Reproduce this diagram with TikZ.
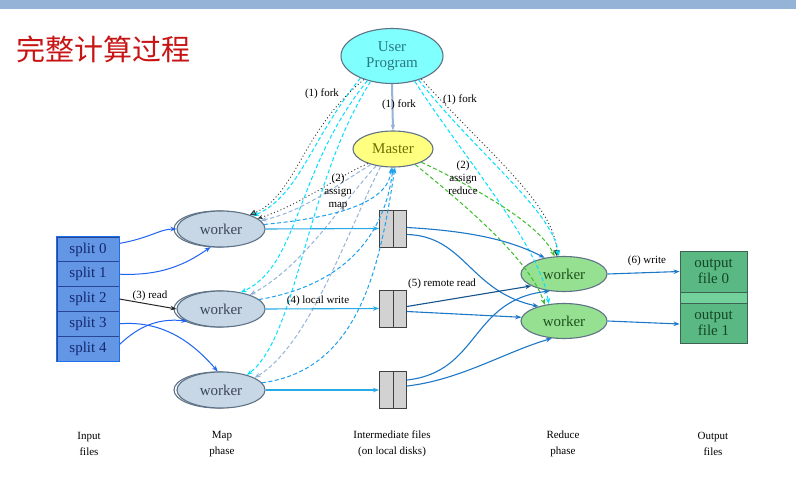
\documentclass[tikz,border=0pt]{standalone}
\usepackage{fontspec}
\setmainfont{Liberation Serif}
\newfontfamily\cjk{Noto Sans CJK SC}
\usetikzlibrary{shapes.geometric,arrows.meta}
\definecolor{barblue}{RGB}{149,179,215}
\definecolor{titlered}{RGB}{200,20,20}
\definecolor{edgegray}{RGB}{95,115,135}
\definecolor{mapfill}{RGB}{200,215,230}
\definecolor{maptext}{RGB}{60,70,90}
\definecolor{redfill}{RGB}{150,225,145}
\definecolor{redtext}{RGB}{30,80,30}
\definecolor{upfill}{RGB}{128,255,255}
\definecolor{uptext}{RGB}{40,120,130}
\definecolor{mfill}{RGB}{255,255,128}
\definecolor{mtext}{RGB}{110,110,0}
\definecolor{splitfill}{RGB}{100,150,230}
\definecolor{splitedge}{RGB}{40,70,150}
\definecolor{splitouter}{RGB}{30,110,235}
\definecolor{splittext}{RGB}{20,40,110}
\definecolor{boxgray}{RGB}{210,210,210}
\definecolor{outfill}{RGB}{90,185,130}
\definecolor{outstrip}{RGB}{115,210,155}
\definecolor{outedge}{RGB}{60,100,80}
\definecolor{outtext}{RGB}{20,70,40}
\definecolor{readblue}{RGB}{30,100,240}
\definecolor{writeblue}{RGB}{40,170,230}
\definecolor{remoteblue}{RGB}{30,120,200}
\definecolor{cyandash}{RGB}{0,225,255}
\definecolor{steeldash}{RGB}{150,180,215}
\definecolor{brightdash}{RGB}{30,160,240}
\definecolor{greendash}{RGB}{60,190,40}
\definecolor{tealtri}{RGB}{30,200,200}
\begin{document}
\begin{tikzpicture}[x=1pt,y=-1pt,
  ell/.style={ellipse, draw=edgegray, line width=1.1pt, inner sep=0pt, font=\fontsize{15}{16}\selectfont, align=center},
  mapw/.style={ell, fill=mapfill, minimum width=88pt, minimum height=36pt, text=maptext},
  mapback/.style={ell, minimum width=88pt, minimum height=36pt},
  redw/.style={ell, fill=redfill, minimum width=86pt, minimum height=35pt, text=redtext},
  splitbox/.style={rectangle, draw=splitedge, line width=0.8pt, fill=splitfill, minimum width=62pt, minimum height=24.8pt, inner sep=0pt, font=\fontsize{15}{16}\selectfont, text=splittext},
  ibox/.style={rectangle, draw=black!75, fill=boxgray, minimum width=27pt, minimum height=37pt, line width=0.9pt, inner sep=0pt},
  outbox/.style={rectangle, draw=outedge, fill=outfill, line width=0.9pt, minimum width=67pt, inner sep=0pt, font=\fontsize{15}{16}\selectfont, text=outtext, align=center},
  lbl/.style={font=\fontsize{11}{13}\selectfont, align=center, inner sep=1pt},
  bot/.style={font=\fontsize{11}{16}\selectfont, align=center, inner sep=0pt},
  tip/.style={-{Stealth[length=6pt,width=4.5pt]}},
  readarr/.style={tip, readblue, line width=1pt},
  writearr/.style={tip, writeblue, line width=1.1pt},
  remarr/.style={tip, remoteblue, line width=1.1pt},
  cyd/.style={tip, cyandash, line width=1pt, dash pattern=on 4pt off 2.5pt},
  std/.style={tip, steeldash, line width=1pt, dash pattern=on 4pt off 2.5pt},
  brd/.style={tip, brightdash, line width=1pt, dash pattern=on 4pt off 2.5pt},
  grd/.style={tip, greendash, line width=1pt, dash pattern=on 4pt off 2.5pt},
  dotk/.style={-{Triangle[length=6pt,width=6pt,fill=tealtri]}, black!80, line width=0.9pt, dash pattern=on 1pt off 2.5pt}
]
\useasboundingbox (0,0) rectangle (796,479);
\fill[white] (0,0) rectangle (796,479);
\fill[barblue] (0,0) rectangle (796,8.5);
\node[text=titlered, font=\cjk\fontsize{29}{29}\selectfont, anchor=west, inner sep=0pt] (title) at (16,49) {完整计算过程};

% main nodes
\node[ell, fill=upfill, text=uptext, minimum width=102pt, minimum height=55pt] (up) at (392,56) {User\\Program};
\node[ell, fill=mfill, text=mtext, minimum width=80pt, minimum height=36pt] (master) at (393,149) {Master};

\node[mapback] (m1b) at (218,229) {};
\node[mapback] (m2b) at (218,309) {};
\node[mapback] (m3b) at (218,390) {};
\node[mapw] (m1) at (221,229) {worker};
\node[mapw] (m2) at (221,309) {worker};
\node[mapw] (m3) at (221,390) {worker};

\node[redw] (r1) at (564,274) {worker};
\node[redw] (r2) at (564,321) {worker};

\node[splitbox] (s0) at (88,249.4) {split 0};
\node[splitbox] (s1) at (88,274.2) {split 1};
\node[splitbox] (s2) at (88,299.0) {split 2};
\node[splitbox] (s3) at (88,323.8) {split 3};
\node[splitbox] (s4) at (88,348.6) {split 4};
\draw[splitouter, line width=1.6pt] (s0.north west) rectangle (s4.south east);

\node[ibox] (i1) at (393,228.5) {};
\node[ibox] (i2) at (393,308.5) {};
\node[ibox] (i3) at (393,390) {};
\draw[black!75, line width=0.9pt] (i1.north) -- (i1.south);
\draw[black!75, line width=0.9pt] (i2.north) -- (i2.south);
\draw[black!75, line width=0.9pt] (i3.north) -- (i3.south);

\node[outbox, minimum height=41pt] (o0) at (713.5,271.5) {output\\file 0};
\node[outbox, fill=outstrip, minimum height=11pt] (os) at (713.5,297.5) {};
\node[outbox, minimum height=40pt] (o1) at (713.5,323) {output\\file 1};

% fork
\draw[-{Stealth[length=6pt,width=4.5pt,fill=black!80]}, steeldash, line width=2pt] (up.south) -- (master.north);
\node[lbl] (lf1) at (399,105) {(1) fork};
\node[lbl] (lf0) at (322,94) {(1) fork};
\node[lbl] (lf2) at (460,100) {(1) fork};

\draw[cyd] (up.215) .. controls (310,140) and (300,195) .. (m1.22);
\draw[dotk] (up.220) .. controls (302,130) and (296,195) .. (m1.26);
\draw[cyd] (up.225) .. controls (295,170) and (300,265) .. (m2.40);
\draw[cyd] (up.230) .. controls (305,185) and (298,335) .. (m3.30);

\draw[dotk] (up.-38) .. controls (485,150) and (555,205) .. (r1.112);
\draw[cyd] (up.-42) .. controls (478,155) and (552,210) .. (r1.106);
\draw[cyd] (up.-48) .. controls (462,155) and (540,245) .. (r2.132);

% assign map
\draw[dotk, -{Stealth[length=5pt,width=4pt]}] (master.210) .. controls (335,178) and (300,205) .. (m1.16);
\draw[std] (master.215) .. controls (330,190) and (300,212) .. (m1.12);
\draw[std] (master.225) .. controls (340,205) and (305,265) .. (m2.26);
\draw[std] (master.235) .. controls (350,225) and (310,345) .. (m3.20);
\node[lbl] (lam) at (338,192) {(2)\\assign\\map};

% workers report to master
\draw[brd] (m1.6) .. controls (330,218) and (388,205) .. (master.265);
\draw[brd] (m2.14) .. controls (345,285) and (385,235) .. (master.270);
\draw[brd] (m3.10) .. controls (360,370) and (380,265) .. (master.276);

% assign reduce
\draw[grd] (master.-25) .. controls (480,190) and (540,225) .. (r1.118);
\draw[grd] (master.-35) .. controls (465,205) and (530,260) .. (r2.140);
\node[lbl] (lar) at (463,178) {(2)\\assign\\reduce};

% read
\draw[readarr] ([yshift=6pt]s0.east) .. controls (150,238) and (160,229) .. (m1.west);
\draw[readarr] (s1.east) .. controls (160,276) and (185,265) .. (m1.240);
\draw[tip, black!85, line width=1pt] (s2.east) -- (m2.west);
\draw[readarr] (s3.east) .. controls (165,320) and (195,345) .. (m3.100);
\draw[readarr] ([yshift=4pt]s4.east) .. controls (140,325) and (160,318) .. (m2.200);
\node[lbl, anchor=south] (lread) at (150,302) {(3) read};

% local write
\draw[writearr] (m1.east) -- (i1.west);
\draw[writearr] (m2.east) -- (i2.west);
\draw[writearr] (m3.east) -- (i3.west);
\node[lbl] (llw) at (318,301) {(4) local write};

% remote read
\draw[remarr] ([yshift=1pt]i1.east) .. controls (470,231) and (510,240) .. (r1.140);
\draw[remarr] ([yshift=-6pt]i1.east) .. controls (465,236) and (470,292) .. (r2.150);
\draw[tip, remoteblue!70!black, line width=1.1pt] ([yshift=2pt]i2.east) -- (r1.200);
\draw[remarr] ([yshift=-3pt]i2.east) -- (r2.175);
\draw[remarr] ([yshift=10pt]i3.east) .. controls (480,372) and (470,300) .. (r1.230);
\draw[remarr] ([yshift=4pt]i3.east) .. controls (460,380) and (505,352) .. (r2.235);
\node[lbl] (lrr) at (442,284) {(5) remote read};

% output write
\draw[tip, remoteblue, line width=1.1pt] (r1.east) -- (o0.west);
\draw[remarr] (r2.east) -- ([yshift=-1pt]o1.west);
\node[lbl] (lw) at (647,261) {(6) write};

% bottom labels
\node[bot] (b1) at (89,444) {Input\\files};
\node[bot] (b2) at (222,444) {Map\\phase};
\node[bot] (b3) at (392,444) {Intermediate files\\(on local disks)};
\node[bot] (b4) at (563,444) {Reduce\\phase};
\node[bot] (b5) at (713,444) {Output\\files};
\end{tikzpicture}
\end{document}
